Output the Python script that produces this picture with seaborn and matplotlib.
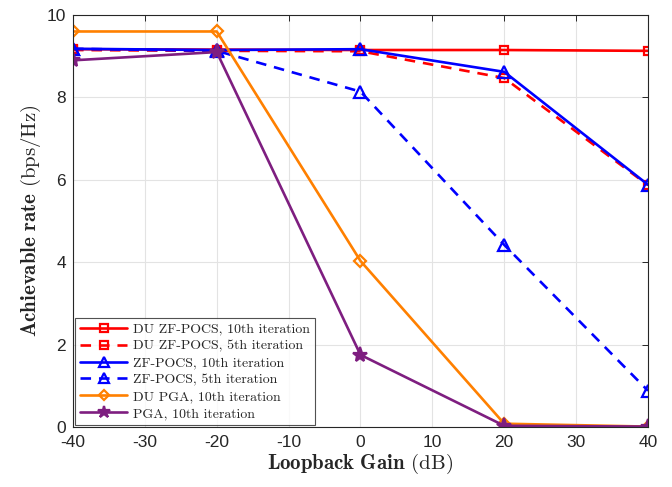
import matplotlib
matplotlib.use("Agg")
import matplotlib.pyplot as plt
import seaborn as sns
import pandas as pd

gain_db = [-40, -20, 0, 20, 40]
du_zf_pocs_10 = [9.17, 9.16, 9.15, 9.15, 9.13]
du_zf_pocs_5 = [9.15, 9.13, 9.12, 8.47, 5.87]
zf_pocs_10 = [9.18, 9.15, 9.17, 8.62, 5.88]
zf_pocs_5 = [9.18, 9.13, 8.14, 4.42, 0.88]
du_pga_10 = [9.60, 9.60, 4.03, 0.08, 0.01]
pga_10 = [8.90, 9.10, 1.75, 0.03, 0.01]

labels = ["DU ZF-POCS, 10th iteration", "DU ZF-POCS, 5th iteration",
          "ZF-POCS, 10th iteration", "ZF-POCS, 5th iteration",
          "DU PGA, 10th iteration", "PGA, 10th iteration"]
series = [du_zf_pocs_10, du_zf_pocs_5, zf_pocs_10, zf_pocs_5, du_pga_10, pga_10]

rows = []
for lab, vals in zip(labels, series):
    for g, v in zip(gain_db, vals):
        rows.append({"gain": g, "rate": v, "series": lab})
df = pd.DataFrame(rows)

sns.set_style("white")
plt.rcParams["mathtext.fontset"] = "cm"
plt.rcParams["axes.unicode_minus"] = False
plt.rcParams["font.family"] = ["Liberation Sans", "DejaVu Sans"]

styles = {
    labels[0]: dict(color="#FF0000", ls="-", marker="s", mfc="none", ms=6),
    labels[1]: dict(color="#FF0000", ls=(0, (4, 3)), marker="s", mfc="none", ms=6),
    labels[2]: dict(color="#0000FF", ls="-", marker="^", mfc="none", ms=9),
    labels[3]: dict(color="#0000FF", ls=(0, (4, 3)), marker="^", mfc="none", ms=9),
    labels[4]: dict(color="#FF8000", ls="-", marker="D", mfc="none", ms=6),
    labels[5]: dict(color="#7E1E80", ls="-", marker="*", mfc="#7E1E80", ms=11),
}

fig = plt.figure(figsize=(6.72, 4.87), dpi=100)
ax = fig.add_axes([73 / 672, 1 - 427 / 487, (648 - 73) / 672, (427 - 15) / 487])

for lab in labels:
    st = styles[lab]
    sub = df[df["series"] == lab]
    sns.lineplot(data=sub, x="gain", y="rate", ax=ax, color=st["color"],
                 linestyle=st["ls"], marker=st["marker"], markersize=st["ms"],
                 markerfacecolor=st["mfc"], markeredgecolor=st["color"],
                 markeredgewidth=1.6, linewidth=1.9, label=lab, legend=False)

ax.set_xlim(-40, 40)
ax.set_ylim(0, 10)
ax.set_xticks(range(-40, 41, 10))
ax.set_yticks(range(0, 11, 2))
ax.grid(True, color="#E3E3E3", linewidth=0.8)
ax.tick_params(direction="in", top=True, right=True, length=4, labelsize=12.5,
               colors="#262626", width=0.7)
ax.tick_params(axis="x", pad=6)
ax.tick_params(axis="y", pad=5)
for sp in ax.spines.values():
    sp.set_color("#262626")
    sp.set_linewidth(0.8)

ax.set_xlabel(r"$\mathbf{Loopback\ Gain}$ (dB)", fontfamily="cmr10", fontsize=15,
              color="#262626", labelpad=1)
ax.set_ylabel(r"$\mathbf{Achievable\ rate}$ (bps/Hz)", fontfamily="cmr10", fontsize=15,
              color="#262626", labelpad=3)

handles, hl = ax.get_legend_handles_labels()
leg = ax.legend(handles, hl, loc="lower left", prop={"family": "cmr10", "size": 10},
                frameon=True, fancybox=False, edgecolor="#262626", borderpad=0.35,
                labelspacing=0.3, handlelength=3.4, handletextpad=0.4,
                borderaxespad=0.15, markerscale=0.85)
leg.get_frame().set_linewidth(0.8)

fig.savefig("out.png", dpi=100)
